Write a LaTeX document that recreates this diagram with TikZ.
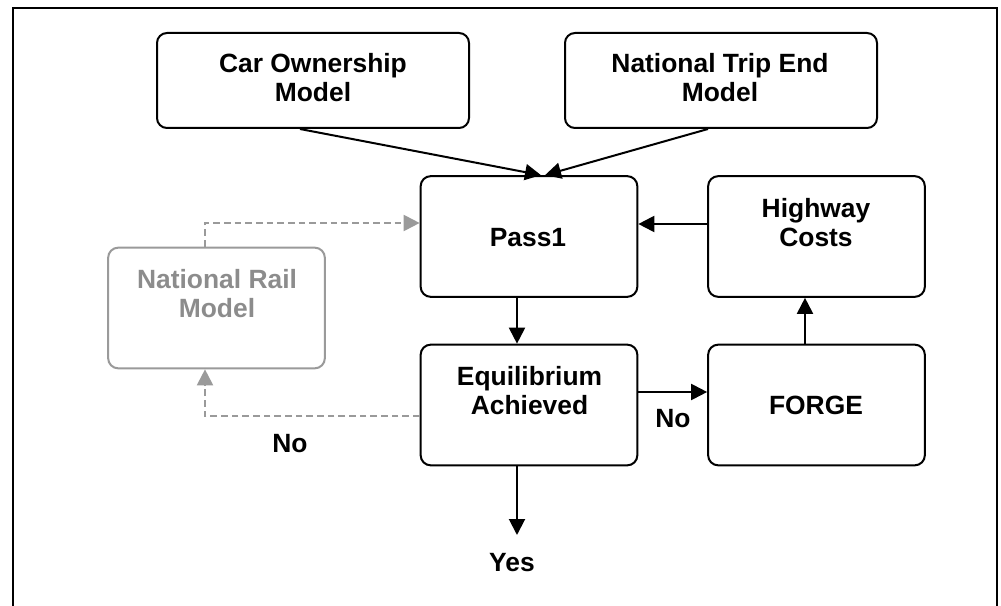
\documentclass[tikz,border=0pt]{standalone}
\usepackage{fontspec}
\setmainfont{Liberation Sans}
\usetikzlibrary{arrows.meta,calc}
\definecolor{railline}{HTML}{9A9A9A}
\definecolor{railtext}{HTML}{8C8C8C}
\begin{document}
\begin{tikzpicture}[x=0.75pt,y=-0.75pt,
  box/.style={draw, line width=1.5pt, rounded corners=7.5pt, inner sep=0pt},
  wide/.style={minimum width=234pt, minimum height=71.25pt},
  mid/.style={minimum width=162.5pt, minimum height=90.5pt},
  txt/.style={font=\bfseries\fontsize{19.8pt}{21.75pt}\selectfont, align=center, inner sep=0pt},
  arr/.style={line width=1.5pt, -{Triangle[length=12pt,width=12pt]}},
  dsh/.style={line width=1.5pt, color=railline, dash pattern=on 5pt off 3pt,
              -{Triangle[length=12pt,width=12pt]}},
  grey/.style={draw=railline, text=railtext}]
\useasboundingbox (0,0) rectangle (1001,606);
\clip (0,0) rectangle (1001,606);

% outer frame, open at the bottom
\draw[line width=1.8pt] (13,620) -- (13,8) -- (997,8) -- (997,620);

% boxes
\node[box, wide] (car)  at (313,80.5) {};
\node[box, wide] (ntem) at (721,80.5) {};
\node[box, mid]  (pass1) at (529,236.5) {};
\node[box, mid]  (hwy)   at (816.5,236.5) {};
\node[box, mid]  (eq)    at (529,405) {};
\node[box, mid]  (forge) at (816.5,405) {};
\node[box, mid, grey] (nr) at (216.5,308) {};

% box texts
\node[txt] (cartxt)  at (313,77.5) {Car Ownership\\Model};
\node[txt] (ntemtxt) at (720,77.5) {National Trip End\\Model};
\node[txt, anchor=base] (passtxt) at (528,247) {Pass1};
\node[txt] (hwytxt) at (816,222.5) {Highway\\Costs};
\node[txt] (eqtxt)  at (529.5,391) {Equilibrium\\Achieved};
\node[txt, anchor=base] (forgetxt) at (816,415) {FORGE};
\node[txt, text=railtext] (nrtxt) at (217,294) {National Rail\\Model};

% decision labels
\node[txt, anchor=base] (noright) at (673,427) {No};
\node[txt, anchor=base] (noleft)  at (290,452) {No};
\node[txt, anchor=base] (yes)     at (512,571) {Yes};
\coordinate (yestip) at (517,535);

% connectors
\draw[arr] ($(car.south)+(-13,0)$) -- ($(pass1.north)+(12,0)$);
\draw[arr] ($(ntem.south)+(-13,0)$) -- ($(pass1.north)+(16,0)$);
\draw[arr] ($(hwy.west)+(0,-12.5)$) -- ($(pass1.east)+(0,-12.5)$);
\draw[arr] ($(pass1.south)+(-12,0)$) -- ($(eq.north)+(-12,0)$);
\draw[arr] ($(eq.east)+(0,-13)$) -- ($(forge.west)+(0,-13)$);
\draw[arr] ($(forge.north)+(-11.5,0)$) -- ($(hwy.south)+(-11.5,0)$);
\draw[arr] ($(eq.south)+(-12,0)$) -- (yestip);

% national rail loop
\draw[dsh] ($(nr.north)+(-11.5,0)$) |- ($(pass1.west)+(0,-13.5)$);
\draw[dsh] ($(eq.west)+(0,11)$) -| ($(nr.south)+(-11.5,0)$);
\end{tikzpicture}
\end{document}
